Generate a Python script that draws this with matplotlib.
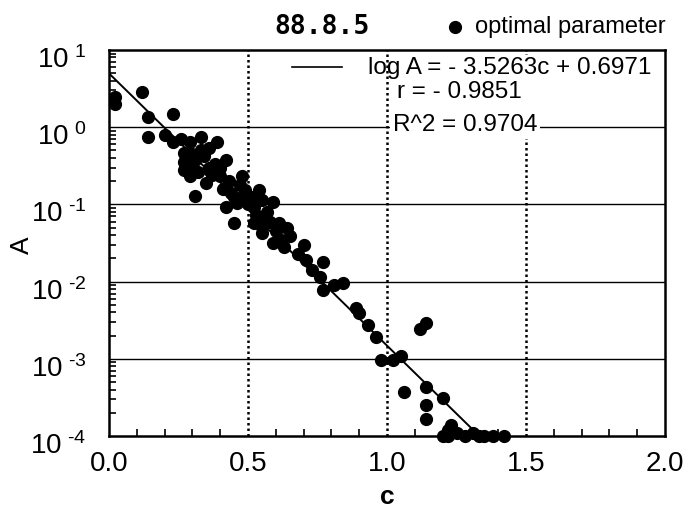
import matplotlib
matplotlib.use("Agg")
import matplotlib.pyplot as plt
import matplotlib.transforms as mtransforms
import numpy as np
from matplotlib.patches import Rectangle
from matplotlib.ticker import FixedLocator, FuncFormatter, LogLocator, NullFormatter

plt.rcParams["font.family"] = ["Liberation Sans", "DejaVu Sans"]
plt.rcParams["mathtext.default"] = "regular"

# optimal parameter values (c, A)
c_values = [
    0.02, 0.02, 0.12, 0.14, 0.23, 0.14, 0.20, 0.23, 0.26, 0.29,
    0.33, 0.39, 0.27, 0.27, 0.27, 0.29, 0.31, 0.33, 0.36, 0.36,
    0.35, 0.40, 0.42, 0.41, 0.31, 0.42, 0.45, 0.45, 0.48, 0.49,
    0.47, 0.51, 0.54, 0.55, 0.59, 0.52, 0.52, 0.55, 0.58, 0.61,
    0.55, 0.59, 0.65, 0.63, 0.68, 0.71, 0.73, 0.77, 0.76, 0.77,
    0.81, 0.84, 0.89, 0.90, 0.93, 0.96, 0.98, 1.02, 1.05, 1.12,
    1.14, 1.06, 1.14, 1.14, 1.14, 1.20, 1.23, 1.22, 1.20, 1.25,
    1.31, 1.33, 1.35, 1.38, 1.42, 1.28, 1.22,
    0.28, 0.30, 0.32, 0.34, 0.37, 0.38, 0.43, 0.44, 0.46, 0.50,
    0.53, 0.56, 0.60, 0.62, 0.30, 0.36, 0.40, 0.47, 0.57, 0.64,
    0.70,
]
A_values = [
    2.46, 2.0, 2.86, 1.36, 1.48, 0.75, 0.79, 0.64, 0.70, 0.64,
    0.75, 0.64, 0.46, 0.35, 0.28, 0.23, 0.38, 0.51, 0.54, 0.30,
    0.19, 0.23, 0.38, 0.16, 0.13, 0.092, 0.057, 0.125, 0.23, 0.154,
    0.18, 0.125, 0.154, 0.114, 0.107, 0.092, 0.057, 0.051, 0.059, 0.057,
    0.043, 0.032, 0.039, 0.028, 0.023, 0.019, 0.014, 0.018, 0.0115, 0.0078,
    0.009, 0.0096, 0.0045, 0.0039, 0.0027, 0.0019, 0.00096, 0.00096, 0.0011, 0.0024,
    0.0029, 0.00037, 0.00043, 0.00025, 0.000166, 0.00031, 0.000139, 0.00012, 0.0001, 0.00011,
    0.00011, 0.0001, 0.0001, 0.0001, 0.0001, 0.0001, 0.0001,
    0.42, 0.32, 0.26, 0.42, 0.24, 0.33, 0.20, 0.14, 0.105, 0.10,
    0.072, 0.068, 0.045, 0.035, 0.45, 0.28, 0.30, 0.12, 0.08, 0.05,
    0.03,
]

# regression: log A = slope * c + intercept
slope = -3.5263
intercept = 0.6971
r_value = -0.9851
r_squared = 0.9704

x_ticks = [0.0, 0.5, 1.0, 1.5, 2.0]
decades = [-4, -3, -2, -1, 0, 1]

W, H = 689, 514
fig = plt.figure(figsize=(W / 100, H / 100), dpi=100)
ax = fig.add_axes([109 / W, 1 - 436 / H, 556 / W, 386 / H])

ax.set_yscale("log")
ax.set_xlim(0, 2)
ax.set_ylim(10.0 ** decades[0], 10.0 ** decades[-1])

# grid: solid at decades, dotted at half units
for d in decades[1:-1]:
    ax.axhline(10.0 ** d, color="black", lw=1.0, zorder=1)
for xv in x_ticks[1:-1]:
    ax.axvline(xv, color="black", lw=1.8, dashes=(1, 1.2), zorder=1)

# white area behind the fit text
ax.add_patch(Rectangle((0.523, 0.819), 0.459, 0.168, transform=ax.transAxes,
                       facecolor="white", edgecolor="none", zorder=2))

ax.plot(c_values, A_values, "o", color="black", ms=8.5, zorder=3, clip_on=False)

c_fit = np.linspace(0, 2, 200)
ax.plot(c_fit, 10 ** (slope * c_fit + intercept), color="black", lw=1.4, zorder=3)

for s in ax.spines.values():
    s.set_linewidth(1.8)


def decade_label(v, pos):
    e = round(np.log10(v))
    sign = "\u2010" if e < 0 else ""
    return r"$10^{\ %s%d}$" % (sign, abs(e))


ax.xaxis.set_major_locator(FixedLocator(x_ticks))
ax.xaxis.set_minor_locator(FixedLocator(np.arange(0, 2.0001, 0.1)))
ax.xaxis.set_major_formatter(FuncFormatter(lambda v, p: f"{v:.1f}"))
ax.yaxis.set_major_locator(LogLocator(base=10, numticks=10))
ax.yaxis.set_minor_locator(LogLocator(base=10, subs=np.arange(2, 10), numticks=10))
ax.yaxis.set_minor_formatter(NullFormatter())
ax.yaxis.set_major_formatter(FuncFormatter(decade_label))

ax.tick_params(which="both", direction="in", top=False, right=False, width=1.2)
ax.tick_params(which="major", length=0)
ax.tick_params(axis="x", which="major", labelsize=20, pad=11)
ax.tick_params(axis="y", which="major", labelsize=20, pad=16)
ax.tick_params(axis="x", which="minor", length=5)
ax.tick_params(axis="y", which="minor", length=5)

# nudge the decade labels down a little
shift = mtransforms.ScaledTranslation(0, -7 / 100, fig.dpi_scale_trans)
for lbl in ax.get_yticklabels():
    lbl.set_transform(lbl.get_transform() + shift)

fig.text(22 / W, 1 - 245 / H, "A", rotation=90, fontsize=19, ha="center", va="center")
fig.text(387 / W, 1 - 497 / H, "c", fontsize=19, fontweight="bold", ha="center", va="center")

# header: run id and marker legend
fig.text(322 / W, 1 - 27 / H, "88.8.5", fontsize=19, fontweight="bold",
         family="DejaVu Sans Mono", ha="center", va="center")
fig.add_artist(plt.Line2D([455 / W], [1 - 27 / H], marker="o", color="black", ms=8.5,
                          transform=fig.transFigure))
fig.text(475 / W, 1 - 27 / H, "optimal parameter", fontsize=17, ha="left", va="center")

# fit statistics
ax.plot([0.329, 0.419], [0.956, 0.956], color="black", lw=1.2, transform=ax.transAxes,
        zorder=4, clip_on=False)
ax.text(0.975, 0.953, f"log A = {slope:.4f}c + {intercept:.4f}".replace("-", "- "),
        transform=ax.transAxes, fontsize=17.5, ha="right", va="center", zorder=5)
ax.text(0.631, 0.891, f"r = {r_value:.4f}".replace("-", "- "), transform=ax.transAxes,
        fontsize=17.5, ha="center", va="center", zorder=5)
ax.text(0.640, 0.805, f"R^2 = {r_squared:.4f}", transform=ax.transAxes, fontsize=17.5,
        ha="center", va="center", zorder=5,
        bbox=dict(facecolor="white", edgecolor="none", pad=2))

fig.savefig("out.png", dpi=100)
